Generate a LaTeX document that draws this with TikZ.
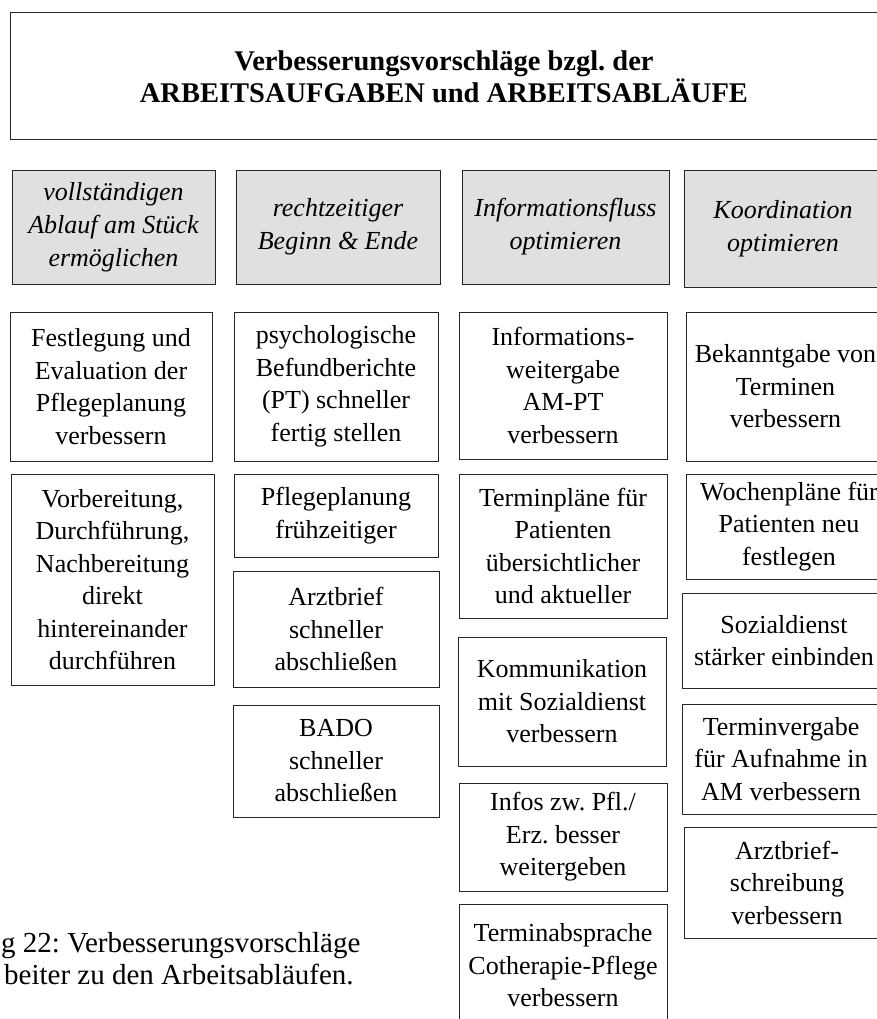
\documentclass[tikz,border=0pt]{standalone}
\usepackage{fontspec}
\setmainfont{Liberation Serif}
\frenchspacing
\usepackage{tikz}
\tikzstyle{node_box} = [rectangle, draw=black!85, line width=0.9pt, inner sep=0pt, align=center, font=\fontsize{26}{32.5}\selectfont]
\tikzstyle{node_title} = [node_box, font=\fontsize{28.5}{32}\selectfont\bfseries]
\tikzstyle{node_goal} = [node_box, fill=black!12, font=\fontsize{26}{33}\selectfont\itshape]
\tikzstyle{node_item} = [node_box]
\tikzstyle{node_caption} = [inner sep=0pt, anchor=base west, font=\fontsize{29}{32}\selectfont]

\begin{document}
\begin{tikzpicture}[x=1pt, y=-1pt]
			\useasboundingbox (0,0) rectangle (877,1019);
			\clip (0,0) rectangle (877,1019);
			% title
			\node (T) at (444,76.4) [node_title, minimum width=868pt, minimum height=127pt] {Verbesserungsvorschläge bzgl. der\\ARBEITSAUFGABEN und ARBEITSABLÄUFE};
			% goals
			\node (G1) at (113.5,227) [node_goal, minimum width=203pt, minimum height=114pt] {vollständigen\\Ablauf am Stück\\ermöglichen};
			\node (G2) at (338,227) [node_goal, minimum width=204pt, minimum height=114pt] {rechtzeitiger\\Beginn \& Ende};
			\node (G3) at (565.5,227) [node_goal, minimum width=207pt, minimum height=114pt] {Informationsfluss\\optimieren};
			\node (G4) at (783,228.5) [node_goal, minimum width=198pt, minimum height=117pt] {Koordination\\optimieren};
			% column 1
			\node (A1) at (111,386.5) [node_item, minimum width=202pt, minimum height=149pt] {Festlegung und\\Evaluation der\\Pflegeplanung\\verbessern};
			\node (A2) at (112.5,579.5) [node_item, minimum width=203pt, minimum height=211pt] {Vorbereitung,\\Durchführung,\\Nachbereitung\\direkt\\hintereinander\\durchführen};
			% column 2
			\node (B1) at (336,386.5) [node_item, minimum width=204pt, minimum height=149pt] {psychologische\\Befundberichte\\(PT) schneller\\fertig stellen};
			\node (B2) at (336,515.5) [node_item, minimum width=204pt, minimum height=83pt] {Pflegeplanung\\frühzeitiger};
			\node (B3) at (336,629) [node_item, minimum width=206pt, minimum height=116pt] {Arztbrief\\schneller\\abschließen};
			\node (B4) at (336,761) [node_item, minimum width=206pt, minimum height=112pt] {BADO\\schneller\\abschließen};
			% column 3
			\node (C1) at (563,385.5) [node_item, minimum width=208pt, minimum height=147pt] {Informations-\\weitergabe\\AM-PT\\verbessern};
			\node (C2) at (563,546) [node_item, minimum width=208pt, minimum height=144pt] {Terminpläne für\\Patienten\\übersichtlicher\\und aktueller};
			\node (C3) at (562,701.5) [node_item, minimum width=208pt, minimum height=129pt] {Kommunikation\\mit Sozialdienst\\verbessern};
			\node (C4) at (563,837) [node_item, minimum width=208pt, minimum height=108pt] {Infos zw. Pfl./\\Erz. besser\\weitergeben};
			\node (C5) at (563,965.5) [node_item, minimum width=208pt, minimum height=123pt] {Terminabsprache\\Cotherapie-Pflege\\verbessern};
			% column 4
			\node (D1) at (785.5,386.5) [node_item, minimum width=199pt, minimum height=149pt] {Bekanntgabe von\\Terminen\\verbessern};
			\node (D2) at (789,526.5) [node_item, minimum width=206pt, minimum height=105pt] {Wochenpläne für\\Patienten neu\\festlegen};
			\node (D3) at (784,640.5) [node_item, minimum width=204pt, minimum height=95pt] {Sozialdienst\\stärker einbinden};
			\node (D4) at (781,759) [node_item, minimum width=198pt, minimum height=110pt] {Terminvergabe\\für Aufnahme in\\AM verbessern};
			\node (D5) at (787,882.5) [node_item, minimum width=206pt, minimum height=111pt] {Arztbrief-\\schreibung\\verbessern};
			% caption
			\node (K1) at (1,952) [node_caption] {g 22: Verbesserungsvorschläge};
			\node (K2) at (4,984) [node_caption] {beiter zu den Arbeitsabläufen.};
		\end{tikzpicture}
\end{document}
